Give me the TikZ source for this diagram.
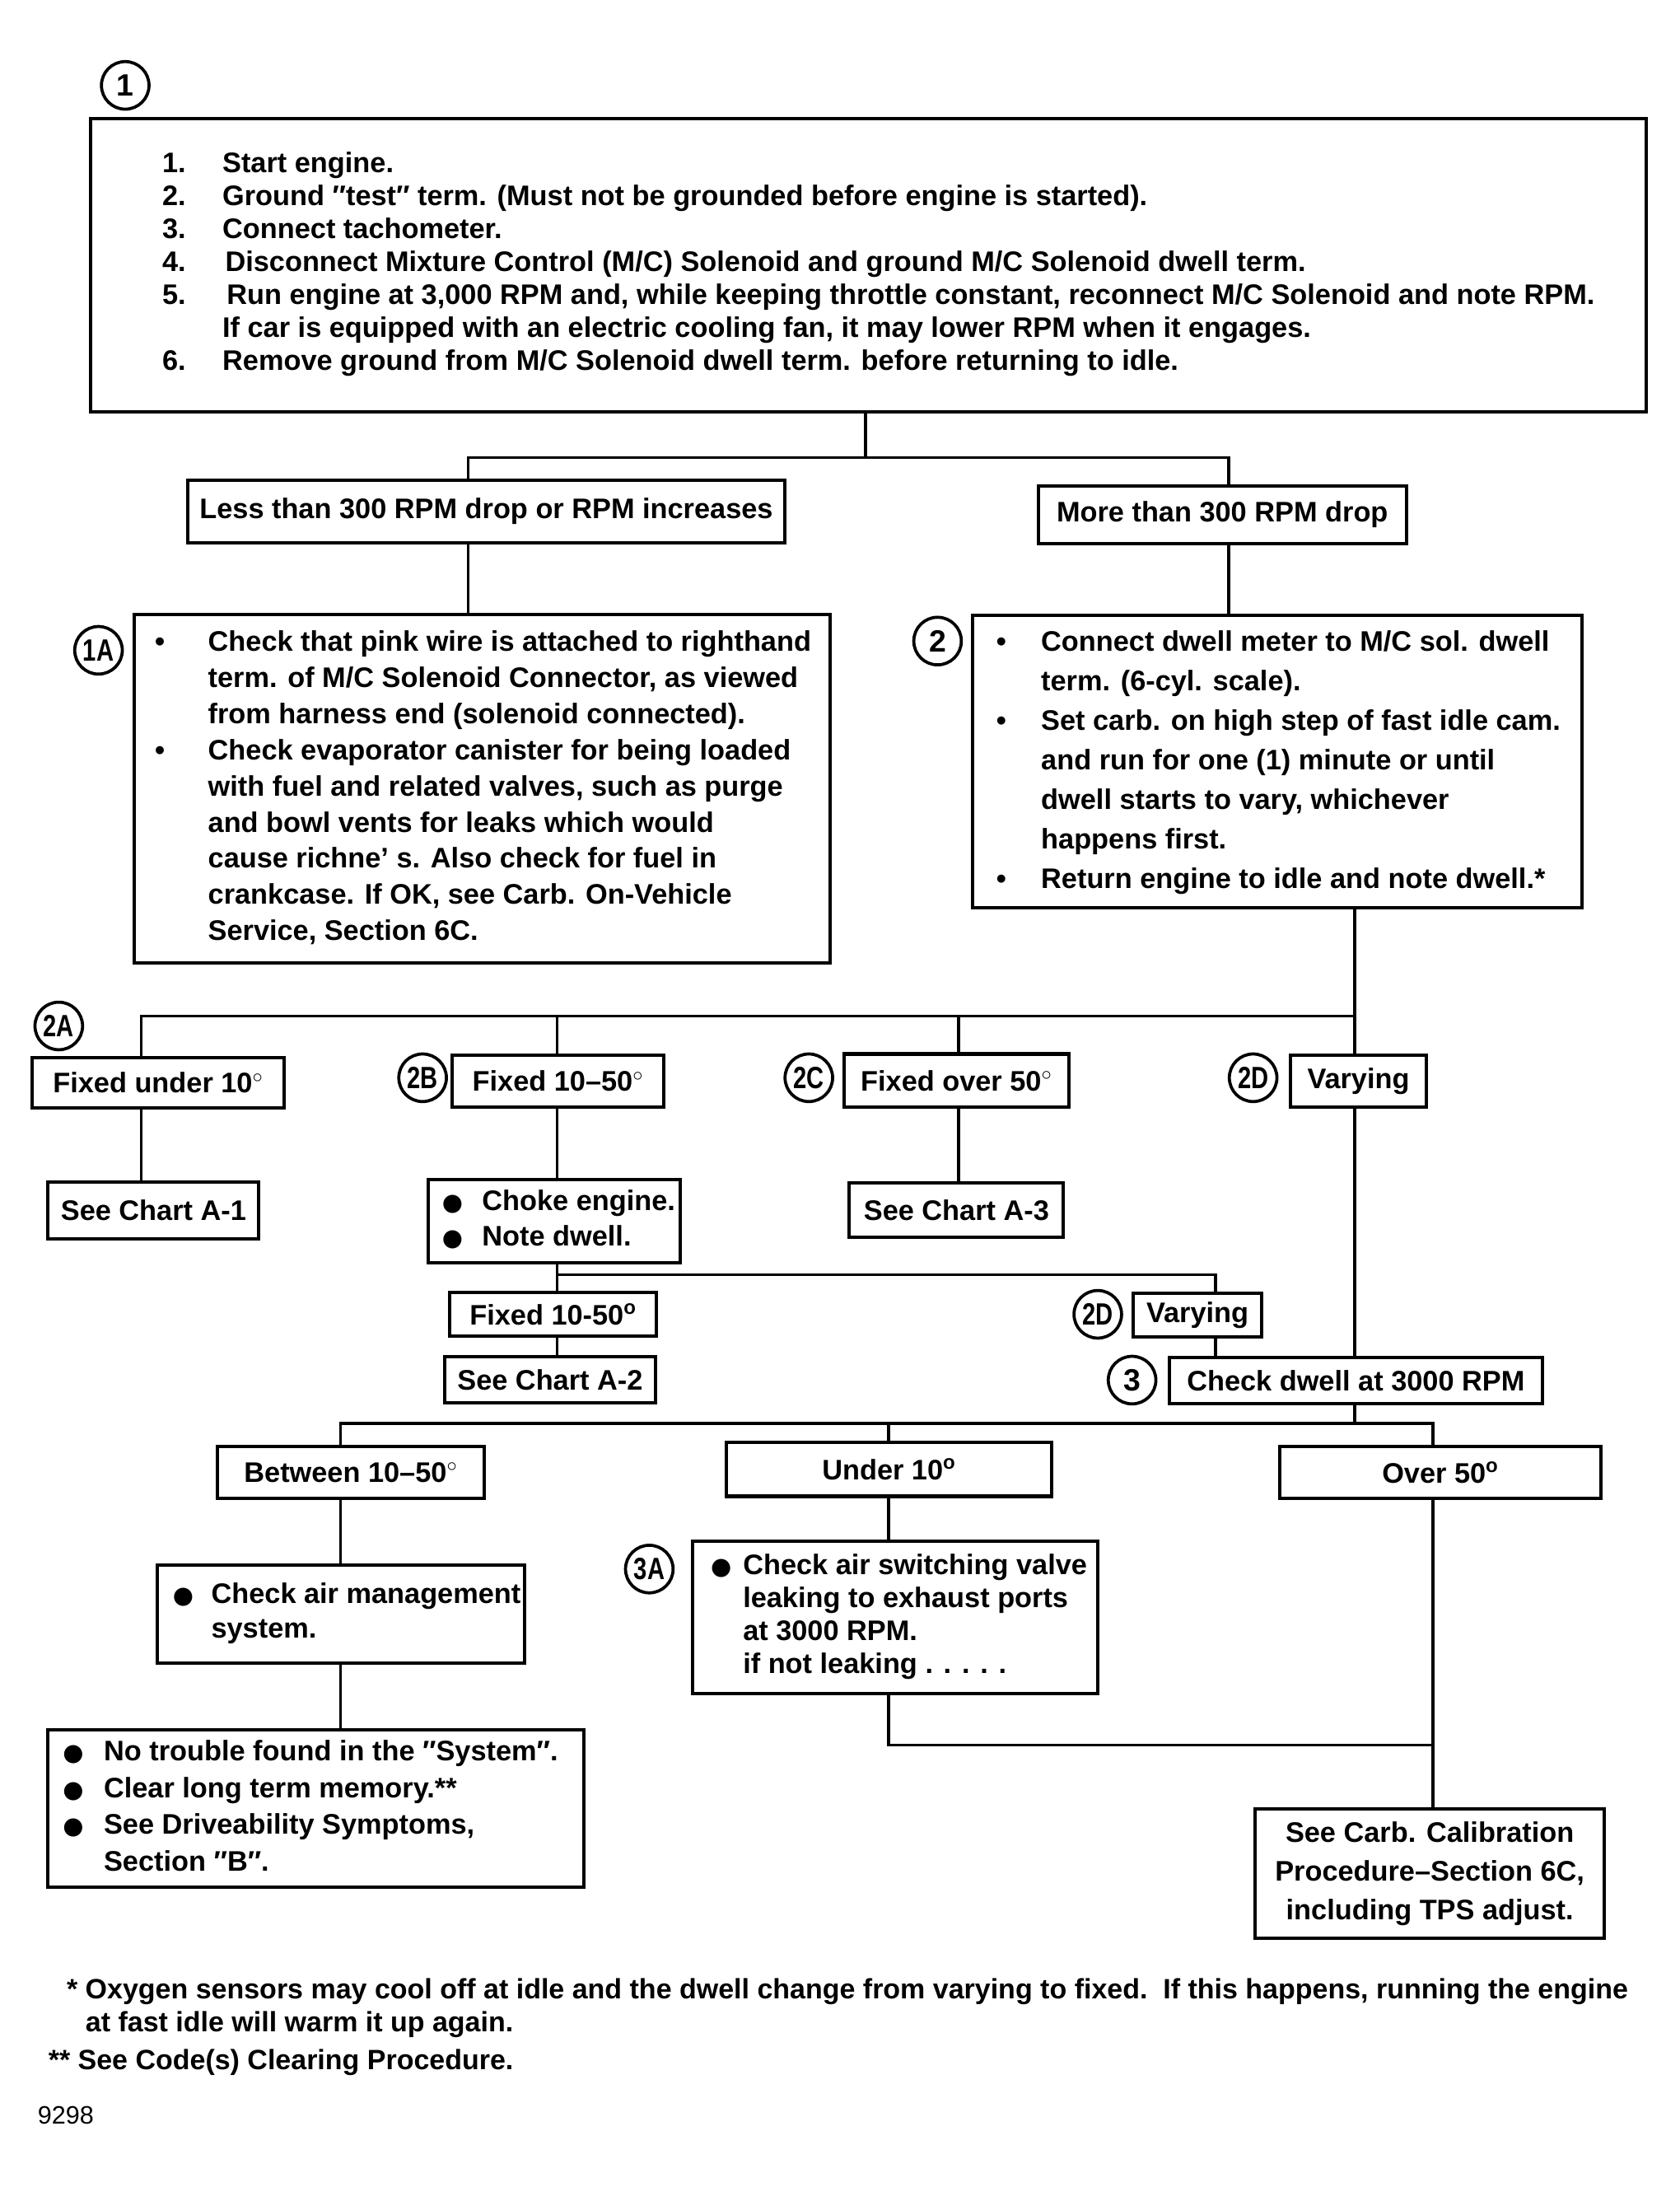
\documentclass[tikz,border=0pt]{standalone}
\usepackage{fontspec}
\usepackage{graphicx}
\setmainfont{Liberation Sans}
\newfontfamily\dejavu{DejaVu Sans}
\usetikzlibrary{calc}
\newcommand\bdot{{\dejavu\fontsize{17}{17}\selectfont ●}}
\newcommand\dg{$^{\circ}$}
\newcommand\dO{\textsuperscript{o}}
\newcommand\sq[1]{\scalebox{0.78}[1]{#1}}
\newcommand\fs[1]{\bfseries\fontsize{20.2}{#1}\selectfont}
% left-aligned box: [opts]{name}{x1}{y1}{x2}{y2}{pad}{lines}
\newcommand\bx[8][]{%
  \pgfmathsetmacro\bxw{#5-#3}\pgfmathsetmacro\bxh{#6-#4}%
  \node[box,anchor=north west,minimum width=\bxw pt,minimum height=\bxh pt,#1] (#2) at (#3,-#4)
    {\makebox[\bxw pt][l]{\hspace*{#7pt}\begin{tabular}{@{}l@{}}#8\end{tabular}}};}
% centred box: [opts]{name}{x1}{y1}{x2}{y2}{text}
\newcommand\bxc[7][]{%
  \pgfmathsetmacro\bxw{#5-#3}\pgfmathsetmacro\bxh{#6-#4}%
  \node[box,align=center,anchor=north west,minimum width=\bxw pt,minimum height=\bxh pt,#1] (#2) at (#3,-#4) {#7};}
\tikzset{
  box/.style={draw,line width=2.4pt,inner sep=0pt,outer sep=0pt,font=\fs{24}},
  circ/.style={draw,circle,line width=2.2pt,minimum size=34pt,inner sep=0pt,font=\bfseries\fontsize{22}{22}\selectfont},
  conn/.style={line width=2pt},
  fnt/.style={inner sep=0pt,font=\bfseries\fontsize{20}{20}\selectfont}
}
\begin{document}
\begin{tikzpicture}[x=1pt,y=1pt]
\fill[white] (0,0) rectangle (1200,-1562.5);
\useasboundingbox (0,0) rectangle (1200,-1562.5);

% ---- circles
\node[circ] (c1) at (89.5,-61) {1};
\node[circ] (c1A) at (70.4,-464.6) {\sq{1A}};
\node[circ] (c2) at (670,-458) {2};
\node[circ] (c2A) at (42,-733) {\sq{2A}};
\node[circ] (c2B) at (302,-770) {\sq{2B}};
\node[circ] (c2C) at (578,-770) {\sq{2C}};
\node[circ] (c2D) at (895.5,-770) {\sq{2D}};
\node[circ] (c2Db) at (784.5,-939) {\sq{2D}};
\node[circ] (c3) at (809,-986) {3};
\node[circ] (c3A) at (464,-1121) {\sq{3A}};

% ---- boxes
\bx[font=\fs{23.6}]{b1}{65}{84.6}{1176.5}{294}{51}{%
\makebox[43pt][l]{1.}Start engine.\\
\makebox[43pt][l]{2.}Ground ″test″ term. (Must not be grounded before engine is started).\\
\makebox[43pt][l]{3.}Connect tachometer.\\
\makebox[45pt][l]{4.}Disconnect Mixture Control (M/C) Solenoid and ground M/C Solenoid dwell term.\\
\makebox[46pt][l]{5.}Run engine at 3,000 RPM and, while keeping throttle constant, reconnect M/C Solenoid and note RPM.\\
\hspace*{43pt}If car is equipped with an electric cooling fan, it may lower RPM when it engages.\\
\makebox[43pt][l]{6.}Remove ground from M/C Solenoid dwell term. before returning to idle.}

\bxc{less}{134}{343}{561}{388}{Less than 300 RPM drop or RPM increases}
\bxc{more}{742}{347}{1005}{388.5}{More than 300 RPM drop}

\bx[font=\fs{25.8}]{b1A}{95.7}{439}{593}{688}{15}{%
\makebox[38pt][l]{•}Check that pink wire is attached to righthand\\
\hspace*{38pt}term. of M/C Solenoid Connector, as viewed\\
\hspace*{38pt}from harness end (solenoid connected).\\
\makebox[38pt][l]{•}Check evaporator canister for being loaded\\
\hspace*{38pt}with fuel and related valves, such as purge\\
\hspace*{38pt}and bowl vents for leaks which would\\
\hspace*{38pt}cause richne’ s. Also check for fuel in\\
\hspace*{38pt}crankcase. If OK, see Carb. On-Vehicle\\
\hspace*{38pt}Service, Section 6C.}

\bx[font=\fs{28.25}]{b2}{695}{439.6}{1130.5}{648.5}{17}{%
\makebox[32pt][l]{•}Connect dwell meter to M/C sol. dwell\\
\hspace*{32pt}term. (6-cyl. scale).\\
\makebox[32pt][l]{•}Set carb. on high step of fast idle cam.\\
\hspace*{32pt}and run for one (1) minute or until\\
\hspace*{32pt}dwell starts to vary, whichever\\
\hspace*{32pt}happens first.\\
\makebox[32pt][l]{•}Return engine to idle and note dwell.*}

\bxc{fu}{23}{755.7}{203}{791.7}{Fixed under 10\dg}
\bxc{f1}{323}{754}{474.5}{791}{Fixed 10–50\dg}
\bxc{fo}{603}{753}{764}{791}{Fixed over 50\dg}
\bxc{var1}{922}{754}{1019.5}{791}{Varying}

\bxc{ca1}{34.4}{844.6}{185}{885}{See Chart A-1}
\bx[font=\fs{25}]{choke}{306}{843}{486}{902}{10}{%
\makebox[28.5pt][l]{\bdot}Choke engine.\\
\makebox[28.5pt][l]{\bdot}Note dwell.}
\bxc{ca3}{607}{845}{760}{884}{See Chart A-3}

\bxc{f2}{321.5}{923.4}{469}{954.6}{Fixed 10-50\dO}
\bxc{ca2}{317.7}{969.3}{468.5}{1002}{See Chart A-2}
\bxc{var2}{810}{923.8}{901.5}{955}{Varying}
\bxc{chk}{835.8}{970}{1102}{1002.7}{Check dwell at 3000 RPM}

\bxc{btw}{155.4}{1033.5}{346}{1070.5}{Between 10–50\dg}
\bxc{under}{519}{1030.7}{751.6}{1069}{Under 10\dO}
\bxc{over}{914.6}{1033.5}{1144}{1070.5}{Over 50\dO}

\bx[font=\fs{25}]{air}{112.5}{1118}{375}{1188}{11}{%
\makebox[27.5pt][l]{\bdot}Check air management\\
\hspace*{27.5pt}system.}
\bx[font=\fs{23.7}]{b3A}{495}{1101}{784.5}{1210}{13}{%
\makebox[23pt][l]{\bdot}Check air switching valve\\
\hspace*{23pt}leaking to exhaust ports\\
\hspace*{23pt}at 3000 RPM.\\
\hspace*{23pt}if not leaking . . . . .}
\bx[font=\fs{26.2}]{notr}{34.4}{1236}{417}{1348.5}{10.5}{%
\makebox[29.3pt][l]{\bdot}No trouble found in the ″System″.\\
\makebox[29.3pt][l]{\bdot}Clear long term memory.**\\
\makebox[29.3pt][l]{\bdot}See Driveability Symptoms,\\
\hspace*{29.3pt}Section ″B″.}
\bxc[font=\fs{27.7}]{carb}{897}{1292.6}{1146.5}{1384.5}{See Carb. Calibration\\Procedure–Section 6C,\\including TPS adjust.}

% ---- junction coordinates
\coordinate (t1) at (618.5,-327);
\coordinate (tL) at (334.5,-327);
\coordinate (tR) at (878,-327);
\coordinate (u1) at (101,-726);
\coordinate (u2) at (398,-726);
\coordinate (u3) at (685,-726);
\coordinate (u4) at (968,-726);
\coordinate (v1) at (398,-910.6);
\coordinate (v2) at (868.7,-910.6);
\coordinate (w0) at (968,-1017);
\coordinate (w1) at (243.4,-1017);
\coordinate (w2) at (635,-1017);
\coordinate (w3) at (1024,-1017);
\coordinate (z1) at (635,-1246.6);
\coordinate (z2) at (1024,-1246.6);

% ---- connectors
\draw[conn] (b1.south -| t1) -- (t1);
\draw[conn] (tL |- less.north) -- (tL) -- (tR) -- (tR |- more.north);
\draw[conn] (less.south -| tL) -- (tL |- b1A.north);
\draw[conn] (more.south -| tR) -- (tR |- b2.north);
\draw[conn] (b2.south -| u4) -- (u4 |- var1.north);
\draw[conn] (u1 |- fu.north) -- (u1) -- (u4);
\draw[conn] (u2) -- (u2 |- f1.north);
\draw[conn] (u3) -- (u3 |- fo.north);
\draw[conn] (fu.south -| u1) -- (u1 |- ca1.north);
\draw[conn] (f1.south -| u2) -- (u2 |- choke.north);
\draw[conn] (fo.south -| u3) -- (u3 |- ca3.north);
\draw[conn] (choke.south -| v1) -- (v1 |- f2.north);
\draw[conn] (v1) -- (v2) -- (v2 |- var2.north);
\draw[conn] (f2.south -| v1) -- (v1 |- ca2.north);
\draw[conn] (var2.south -| v2) -- (v2 |- chk.north);
\draw[conn] (var1.south -| u4) -- (u4 |- chk.north);
\draw[conn] (chk.south -| w0) -- (w0);
\draw[conn] (w1 |- btw.north) -- (w1) -- (w3) -- (w3 |- over.north);
\draw[conn] (w2) -- (w2 |- under.north);
\draw[conn] (btw.south -| w1) -- (w1 |- air.north);
\draw[conn] (air.south -| w1) -- (w1 |- notr.north);
\draw[conn] (under.south -| w2) -- (w2 |- b3A.north);
\draw[conn] (b3A.south -| z1) -- (z1) -- (z2);
\draw[conn] (over.south -| w3) -- (w3 |- carb.north);

% ---- footnotes
\node[fnt,anchor=base west] (fn1) at (47.5,-1428) {*\ Oxygen sensors may cool off at idle and the dwell change from varying to fixed.\ \ If this happens, running the engine};
\node[fnt,anchor=base west] (fn2) at (61,-1451.4) {at fast idle will warm it up again.};
\node[fnt,anchor=base west] (fn3) at (34.4,-1478.5) {**\ See Code(s) Clearing Procedure.};
\node[anchor=base west,inner sep=0pt,font=\fontsize{18}{18}\selectfont] (num) at (26.8,-1517.7) {9298};
\end{tikzpicture}
\end{document}
